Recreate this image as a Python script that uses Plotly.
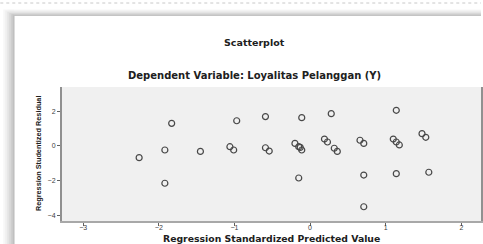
import plotly.graph_objects as go

# Regression standardized predicted value (x) and studentized residual (y)
predicted = [-2.26, -1.83, -1.92, -1.92, -1.45, -0.97, -1.06, -1.01, -0.59, -0.59,
             -0.54, -0.11, -0.20, -0.15, -0.13, -0.11, -0.15, 0.28, 0.19, 0.23,
             0.32, 0.36, 0.66, 0.71, 0.71, 0.71, 1.14, 1.10, 1.14, 1.18,
             1.14, 1.48, 1.53, 1.57]
residual = [-0.67, 1.30, -0.23, -2.14, -0.31, 1.45, -0.04, -0.23, 1.69, -0.10,
            -0.29, 1.63, 0.15, -0.04, -0.08, -0.23, -1.84, 1.86, 0.40, 0.23,
            -0.13, -0.31, 0.33, 0.15, -1.67, -3.49, 2.05, 0.40, 0.23, 0.06,
            -1.59, 0.71, 0.50, -1.51]
x_ticks = [-3, -2, -1, 0, 1, 2]
y_ticks = [-4, -2, 0, 2]

W, H = 483, 244
L, R, T, B = 62, 483, 87, 221


def px(x):
    return (x - L) / (R - L)


def py(y):
    return (B - y) / (B - T)


fig = go.Figure()
fig.add_trace(go.Scatter(
    x=predicted, y=residual, mode="markers",
    marker=dict(symbol="circle-open", size=6, color="#484848",
                line=dict(width=1.2, color="#484848")),
    hoverinfo="x+y", showlegend=False,
))

shapes = []
# top dotted line
shapes.append(dict(type="line", xref="paper", yref="paper",
                   x0=px(0), x1=px(483), y0=py(3), y1=py(3),
                   line=dict(color="#c8c8c8", width=1, dash="dot"), layer="below"))
# card shadow (left and top)
shadow = [("#f7f7f7", 11), ("#efefef", 9), ("#e4e4e4", 7), ("#d8d8d8", 5), ("#cacaca", 3), ("#bdbdbd", 1)]
for col, off in shadow:
    shapes.append(dict(type="rect", xref="paper", yref="paper",
                       x0=px(14 - off), x1=px(14), y0=py(244), y1=py(16 - off * 0.6),
                       fillcolor=col, line=dict(width=0), layer="below"))
    shapes.append(dict(type="rect", xref="paper", yref="paper",
                       x0=px(14 - off * 0.6), x1=px(483), y0=py(16), y1=py(16 - off * 0.6),
                       fillcolor=col, line=dict(width=0), layer="below"))

TITLE_FONT = "DejaVu Sans"

fig.update_layout(
    width=W, height=H,
    margin=dict(l=L, r=W - R, t=T, b=H - B, pad=0),
    paper_bgcolor="white",
    plot_bgcolor="#f0f0f0",
    shapes=shapes,
    xaxis=dict(range=[-3.28, 2.26], tickvals=x_ticks, ticks="outside", ticklen=3,
               tickcolor="#606060", showgrid=False, zeroline=False,
               showline=True, linecolor="#a8a8a8", linewidth=2, mirror=False,
               ticklabelstandoff=-4,
               tickfont=dict(family="Liberation Sans", size=7, color="#404040")),
    yaxis=dict(range=[-4.31, 3.39], tickvals=y_ticks, ticks="outside", ticklen=3,
               tickcolor="#606060", showgrid=False, zeroline=False,
               showline=True, linecolor="#909090", linewidth=2, mirror=True,
               tickfont=dict(family="Liberation Sans", size=7, color="#404040")),
    annotations=[
        dict(text="<b>Scatterplot</b>", xref="paper", yref="paper",
             x=px(255), y=py(43), showarrow=False, xanchor="center", yanchor="middle",
             font=dict(family=TITLE_FONT, size=9.5, color="#202020")),
        dict(text="<b>Dependent Variable: Loyalitas Pelanggan (Y)</b>", xref="paper", yref="paper",
             x=px(255), y=py(75), showarrow=False, xanchor="center", yanchor="middle",
             font=dict(family=TITLE_FONT, size=10, color="#202020")),
        dict(text="<b>Regression Standardized Predicted Value</b>", xref="paper", yref="paper",
             x=px(273), y=py(238.5), showarrow=False, xanchor="center", yanchor="middle",
             font=dict(family=TITLE_FONT, size=9.3, color="#202020")),
        dict(text="<b>Regression Studentized Residual</b>", xref="paper", yref="paper",
             x=px(38), y=py(153), showarrow=False, xanchor="center", yanchor="middle",
             textangle=-90,
             font=dict(family="Liberation Sans Narrow, Liberation Sans", size=7.3, color="#202020")),
    ],
)

fig.write_html("out.html", config={"displayModeBar": False},
               post_script="document.body.style.margin='0';document.body.style.overflow='hidden';")
